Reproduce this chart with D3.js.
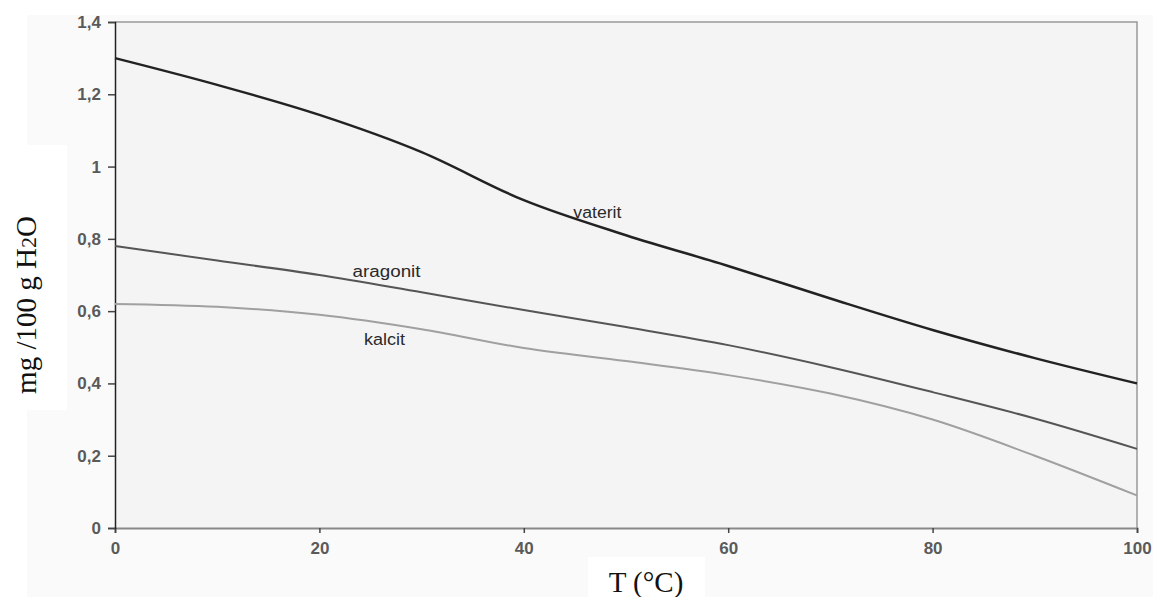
<!DOCTYPE html>
<html>
<head>
<meta charset="utf-8">
<script src="https://cdn.jsdelivr.net/npm/d3@7"></script>
<style>
  body { margin: 0; background: #fff; }
</style>
</head>
<body>
<svg id="chart" width="1153" height="597"></svg>
<script>
var temps = [0, 10, 20, 30, 40, 50, 60, 70, 80, 90, 100];
var vaterit  = [1.30, 1.226, 1.143, 1.040, 0.907, 0.810, 0.725, 0.635, 0.548, 0.470, 0.40];
var aragonit = [0.78, 0.740, 0.700, 0.652, 0.603, 0.556, 0.506, 0.445, 0.376, 0.303, 0.219];
var kalcit   = [0.62, 0.612, 0.590, 0.550, 0.498, 0.462, 0.423, 0.372, 0.300, 0.200, 0.09];
var xTicks = [0, 20, 40, 60, 80, 100];
var yTicks = [0, 0.2, 0.4, 0.6, 0.8, 1, 1.2, 1.4];

var svg = d3.select("#chart"),
    margin = {top: 22, right: 16, bottom: 69, left: 115},
    width = +svg.attr("width") - margin.left - margin.right,
    height = +svg.attr("height") - margin.top - margin.bottom;

// outer light background
svg.append("rect").attr("x", 27).attr("y", 15).attr("width", 1126).attr("height", 582).attr("fill", "#fafafa");

var x = d3.scaleLinear().domain([0, 100]).range([0, width]),
    y = d3.scaleLinear().domain([0, 1.4]).range([height, 0]);

var g = svg.append("g").attr("transform", "translate(" + margin.left + "," + margin.top + ")");

g.append("rect").attr("width", width).attr("height", height).attr("fill", "#f4f4f4");
// frame top/right
g.append("path").attr("d", "M0,0H" + width + "V" + height).attr("fill", "none").attr("stroke", "#999").attr("stroke-width", 1.5);

var fmt = function(d) { return String(d).replace(".", ","); };

var xAxis = g.append("g")
    .attr("transform", "translate(0," + height + ")")
    .call(d3.axisBottom(x).tickValues(xTicks).tickSize(5).tickPadding(9).tickFormat(fmt));
xAxis.select(".domain").attr("stroke", "#888").attr("stroke-width", 2);
xAxis.selectAll(".tick line").attr("stroke", "#444").attr("stroke-width", 1.5);

var yAxis = g.append("g")
    .call(d3.axisLeft(y).tickValues(yTicks).tickSize(7).tickPadding(7).tickFormat(fmt));
yAxis.select(".domain").attr("stroke", "#222").attr("stroke-width", 1.5);
yAxis.selectAll(".tick line").attr("stroke", "#444").attr("stroke-width", 1.5);

svg.selectAll(".tick text")
    .style("font-family", "Liberation Sans, Arial, sans-serif")
    .style("font-size", "17px")
    .style("font-weight", "bold")
    .style("fill", "#5a5a5a");

var series = [
  {name: "vaterit", values: vaterit, color: "#222", w: 2.5, lx: 47.2, ly: 0.858, tw: 48},
  {name: "aragonit", values: aragonit, color: "#555", w: 2, lx: 26.57, ly: 0.694, tw: 68},
  {name: "kalcit", values: kalcit, color: "#a0a0a0", w: 2, lx: 26.37, ly: 0.506, tw: 41}
];

var line = d3.line()
    .x(function(d, i) { return x(temps[i]); })
    .y(function(d) { return y(d); })
    .curve(d3.curveMonotoneX);

series.forEach(function(s) {
  g.append("path").datum(s.values)
    .attr("fill", "none").attr("stroke", s.color).attr("stroke-width", s.w)
    .attr("d", line);
  g.append("text")
    .attr("x", x(s.lx)).attr("y", y(s.ly))
    .attr("text-anchor", "middle")
    .attr("font-family", "Liberation Sans, Arial, sans-serif")
    .attr("font-size", 16).attr("fill", "#2a2a2a")
    .attr("textLength", s.tw).attr("lengthAdjust", "spacingAndGlyphs")
    .text(s.name);
});

// axis titles in white boxes
svg.append("rect").attr("x", 0).attr("y", 145).attr("width", 67).attr("height", 265).attr("fill", "#fff");
var yt = svg.append("text")
    .attr("transform", "translate(36,305) rotate(-90)")
    .attr("text-anchor", "middle")
    .attr("font-family", "Liberation Serif, Times New Roman, serif")
    .attr("font-size", 29).attr("fill", "#111");
yt.append("tspan").text("mg /100 g H");
yt.append("tspan").attr("font-size", 22).text("2");
yt.append("tspan").text("O");

svg.append("rect").attr("x", 588).attr("y", 557).attr("width", 117).attr("height", 40).attr("fill", "#fff");
svg.append("text")
    .attr("x", 646).attr("y", 592)
    .attr("text-anchor", "middle")
    .attr("font-family", "Liberation Serif, Times New Roman, serif")
    .attr("font-size", 29).attr("fill", "#111")
    .text("T (°C)");
</script>
</body>
</html>
